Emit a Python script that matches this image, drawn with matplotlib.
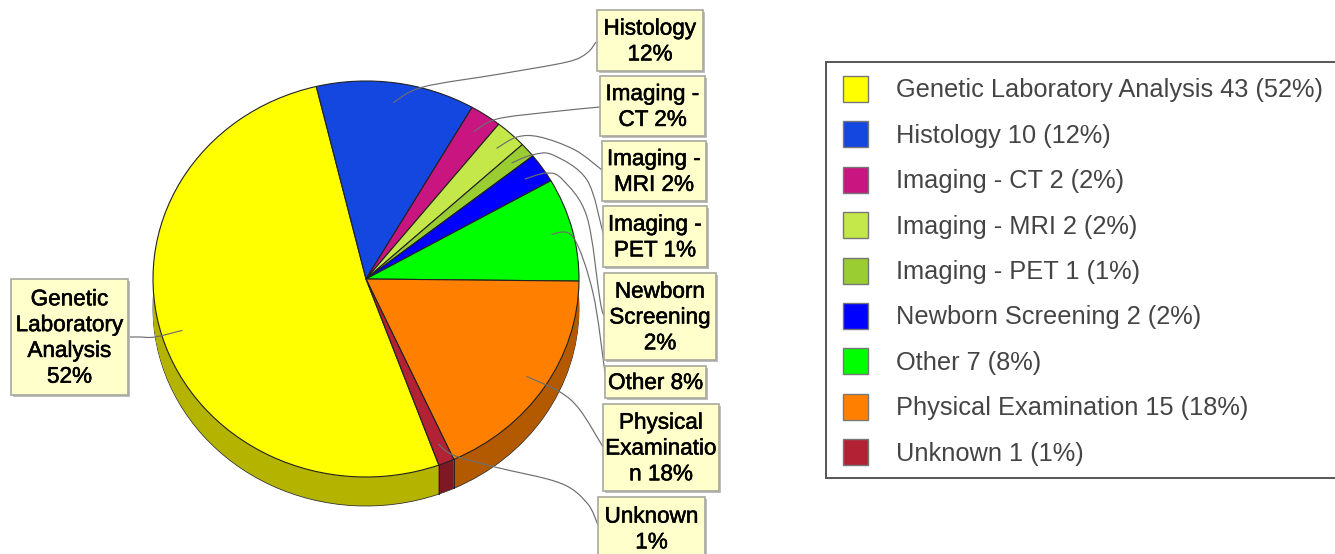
import matplotlib
matplotlib.use('Agg')
import matplotlib.pyplot as plt
import matplotlib.patheffects as pe
from matplotlib.patches import Rectangle, PathPatch
from matplotlib.path import Path
from matplotlib.colors import to_rgb
import numpy as np

categories = ['Genetic Laboratory Analysis', 'Histology', 'Imaging - CT', 'Imaging - MRI', 'Imaging - PET',
              'Newborn Screening', 'Other', 'Physical Examination', 'Unknown']
counts = [43, 10, 2, 2, 1, 2, 7, 15, 1]
percents = [52, 12, 2, 2, 1, 2, 8, 18, 1]
colors = ['#FFFF00', '#1446E0', '#C8157F', '#C4E84A', '#9ACD32', '#0000FF', '#00FF00', '#FF8000', '#B22234']
# label text wraps like in the original
label_texts = ['Genetic\nLaboratory\nAnalysis\n52%', 'Histology\n12%', 'Imaging -\nCT 2%', 'Imaging -\nMRI 2%',
               'Imaging -\nPET 1%', 'Newborn\nScreening\n2%', 'Other 8%', 'Physical\nExaminatio\nn 18%',
               'Unknown\n1%']

# layout, in pixels of the picture
W, H = 1335, 554
cx, cy, rx, ry, depth = 366, 279, 213, 198, 29
start = -70
boxes = [(11, 279, 128, 395), (597, 10, 703, 71), (600, 76, 705, 136), (602, 141, 706, 201), (603, 206, 707, 267),
         (604, 273, 716, 360), (605, 366, 706, 398), (603, 404, 719, 491), (598, 497, 705, 560)]
# way points of the leader lines, after the point inside the slice
leaders = [
    [(155, 337), (140, 337), (128, 337)],
    [(423, 87), (500, 74), (567, 62), (587, 53), (596, 42)],
    [(497, 119), (550, 112), (600, 107)],
    [(517, 137), (540, 137), (575, 150), (602, 170)],
    [(532, 155), (553, 155), (587, 180), (603, 233)],
    [(547, 173), (563, 180), (587, 217), (600, 300), (604, 316)],
    [(573, 237), (593, 293), (605, 373)],
    [(560, 392), (580, 410), (603, 447)],
    [(453, 455), (495, 467), (560, 483), (587, 503), (598, 525)],
]

plt.rcParams['font.family'] = ['Liberation Sans', 'DejaVu Sans']
fig = plt.figure(figsize=(W / 100, H / 100), dpi=100)

# pie axes: stretched so the circle becomes the flat ellipse
pie_ax = fig.add_axes([(cx - rx) / W, 1 - (cy + ry + depth) / H, 2 * rx / W, (2 * ry + depth) / H])
side_colors = [tuple(c * 0.7 for c in to_rgb(col)) for col in colors]
for k in range(depth, 0, -1):
    pie_ax.pie(counts, colors=side_colors, startangle=start, counterclock=False, center=(0, -k / ry),
               wedgeprops={'linewidth': 0.6 if k == depth else 0, 'edgecolor': '#333333'})
pie_ax.pie(counts, colors=colors, startangle=start, counterclock=False,
           wedgeprops={'linewidth': 0.8, 'edgecolor': '#222222'})

fracs = np.array(counts) / sum(counts)
ends = start - 360 * np.cumsum(fracs)
starts = ends + 360 * fracs
for a in starts:
    t = np.radians(a)
    if np.sin(t) < 0:
        pie_ax.plot([np.cos(t)] * 2, [np.sin(t), np.sin(t) - depth / ry], color='#222222', lw=0.7)
pie_ax.set_aspect('auto')
pie_ax.set_xlim(-1, 1)
pie_ax.set_ylim(-1 - depth / ry, 1)
pie_ax.axis('off')

# everything else in picture pixels
ax = fig.add_axes([0, 0, 1, 1], zorder=5)
ax.set_xlim(0, W)
ax.set_ylim(H, 0)
ax.axis('off')
ax.patch.set_alpha(0)


def smooth_path(pts):
    # catmull-rom through the way points, as beziers
    pts = np.array(pts, dtype=float)
    p = np.vstack([pts[0], pts, pts[-1]])
    verts = [pts[0]]
    codes = [Path.MOVETO]
    for i in range(1, len(p) - 2):
        verts += [p[i] + (p[i + 1] - p[i - 1]) / 6, p[i + 1] - (p[i + 2] - p[i]) / 6, p[i + 1]]
        codes += [Path.CURVE4] * 3
    return Path(verts, codes)


mids = (starts + ends) / 2
for i, way in enumerate(leaders):
    t = np.radians(mids[i])
    anchor = (cx + 0.9 * rx * np.cos(t), cy - 0.9 * ry * np.sin(t))
    ax.add_patch(PathPatch(smooth_path([anchor] + way), fc='none', ec='#6E6E6E', lw=0.85, zorder=2))

stroke = [pe.withStroke(linewidth=0.4, foreground='black')]
for (x0, y0, x1, y1), txt in zip(boxes, label_texts):
    ax.add_patch(Rectangle((x0 + 2, y0 + 2), x1 - x0, y1 - y0, fc='#BDBDBD', ec='none', zorder=3))
    ax.add_patch(Rectangle((x0, y0), x1 - x0, y1 - y0, fc='#FFFFCC', ec='#A8A8A0', lw=1.2, zorder=4))
    ax.text((x0 + x1) / 2, (y0 + y1) / 2 + 1.5, txt, ha='center', va='center', fontsize=16.2, color='black',
            linespacing=1.3, zorder=5, path_effects=stroke)

# legend
ax.add_patch(Rectangle((826, 62), 560, 416, fc='white', ec='#555555', lw=1.4, zorder=1))
legend_y = np.linspace(89, 452, len(categories))
for y, name, n, p, col in zip(legend_y, categories, counts, percents, colors):
    ax.add_patch(Rectangle((843, y - 13), 25, 26, fc=col, ec='#777777', lw=1.0, zorder=2))
    ax.text(896, y + 1.5, f'{name} {n} ({p}%)', ha='left', va='center', fontsize=18.3, color='#444444', zorder=2)

fig.savefig('out.png', dpi=100)
